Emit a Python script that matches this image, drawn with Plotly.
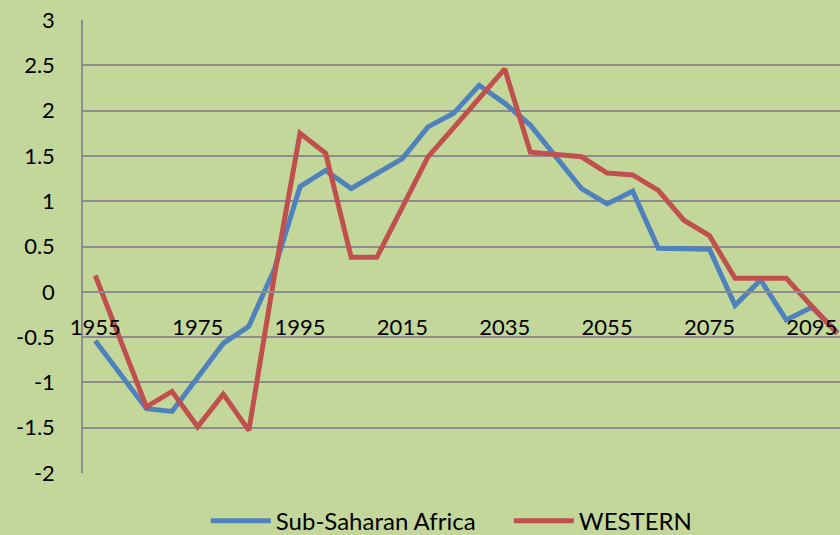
import plotly.graph_objects as go

years = list(range(1955, 2101, 5))
ssa = [-0.54, -0.92, -1.29, -1.32, -0.95, -0.57, -0.38, 0.25, 1.16, 1.34,
       1.14, 1.31, 1.47, 1.82, 1.97, 2.28, 2.08, 1.84, 1.49, 1.14,
       0.97, 1.11, 0.48, 0.48, 0.47, -0.15, 0.13, -0.31, -0.17, -0.45]
western = [0.18, -0.54, -1.27, -1.10, -1.49, -1.13, -1.53, 0.18, 1.75, 1.53,
           0.38, 0.38, 0.94, 1.49, 1.81, 2.13, 2.46, 1.54, 1.52, 1.49,
           1.31, 1.29, 1.12, 0.79, 0.62, 0.15, 0.15, 0.15, -0.16, -0.46]
xticks = [1955, 1975, 1995, 2015, 2035, 2055, 2075, 2095]
yticks = [3, 2.5, 2, 1.5, 1, 0.5, 0, -0.5, -1, -1.5, -2]

BG = "#C4D79B"
GRID = "#8C8C8C"
FONT = "Lato, 'Open Sans', sans-serif"

fig = go.Figure()
fig.add_trace(go.Scatter(x=years, y=ssa, mode="lines", name="Sub-Saharan Africa",
                         line=dict(color="#4F81BD", width=5)))
fig.add_trace(go.Scatter(x=years, y=western, mode="lines", name="WESTERN",
                         line=dict(color="#C0504D", width=5)))

fig.update_layout(
    width=840, height=535,
    margin=dict(l=83, r=0, t=20, b=62, autoexpand=False),
    paper_bgcolor=BG, plot_bgcolor=BG,
    font=dict(family=FONT, size=22, color="black"),
    showlegend=True,
    legend=dict(orientation="h", xref="container", x=0.245, xanchor="left",
                yref="container", y=0.026, yanchor="middle",
                font=dict(size=24), bgcolor="rgba(0,0,0,0)", itemwidth=60,
                entrywidth=228, entrywidthmode="pixels", tracegroupgap=0),
    xaxis=dict(range=[1952.6, 2100.5], tickvals=xticks, ticktext=[str(t) for t in xticks],
               showgrid=False, zeroline=False, showline=True, linecolor=GRID, linewidth=1.5,
               anchor="free", position=0.4, ticks="", ticklabelstandoff=16,
               tickfont=dict(size=22)),
    yaxis=dict(range=[-2, 3], tickvals=yticks, ticktext=[str(t) for t in yticks],
               showgrid=True, gridcolor=GRID, gridwidth=1.5, zeroline=False,
               showline=True, linecolor=GRID, linewidth=1.5, ticks="",
               ticklabelstandoff=22, tickfont=dict(size=22)),
)

fig.write_html("out.html", config={"displayModeBar": False},
               post_script="document.body.style.margin='0';document.body.style.overflow='hidden';")
